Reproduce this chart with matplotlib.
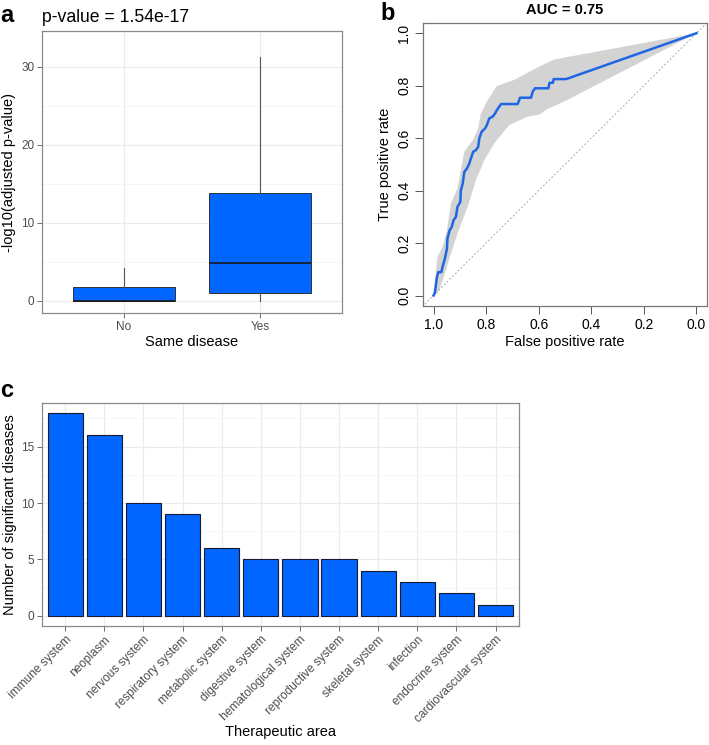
import numpy as np
import matplotlib
matplotlib.use('Agg')
import matplotlib.pyplot as plt
from matplotlib.ticker import MultipleLocator

plt.rcParams['font.family'] = ['Liberation Sans', 'DejaVu Sans']

# panel a: boxplot stats
groups = ['No', 'Yes']
whislo = [0.0, 0.0]
q1 = [0.0, 0.98]
med = [0.0, 4.82]
q3 = [1.75, 13.8]
whishi = [4.26, 31.3]

# panel b: ROC curve (x axis = specificity, shown reversed)
roc_x = [1.0, 0.995, 0.987, 0.982, 0.970, 0.966, 0.957, 0.949, 0.947, 0.939, 0.931, 0.924,
         0.915, 0.909, 0.898, 0.896, 0.889, 0.883, 0.873, 0.864, 0.858, 0.849, 0.839, 0.830,
         0.826, 0.817, 0.804, 0.797, 0.788, 0.775, 0.766, 0.759, 0.750, 0.743, 0.680, 0.671,
         0.629, 0.623, 0.614, 0.563, 0.559, 0.546, 0.543, 0.496, 0.0]
roc_y = [0.0, 0.01, 0.07, 0.089, 0.089, 0.108, 0.14, 0.178, 0.217, 0.248, 0.261, 0.287,
         0.299, 0.338, 0.357, 0.401, 0.427, 0.471, 0.484, 0.503, 0.522, 0.548, 0.554, 0.567,
         0.599, 0.624, 0.637, 0.650, 0.675, 0.682, 0.694, 0.707, 0.720, 0.730, 0.730, 0.754,
         0.754, 0.777, 0.790, 0.790, 0.811, 0.811, 0.825, 0.825, 1.0]
band_up_x = [1.0, 0.985, 0.966, 0.949, 0.934, 0.909, 0.883, 0.851, 0.830, 0.820, 0.794,
             0.759, 0.693, 0.597, 0.540, 0.0]
band_up_y = [0.0, 0.146, 0.185, 0.248, 0.350, 0.408, 0.548, 0.592, 0.637, 0.694, 0.745,
             0.799, 0.822, 0.873, 0.900, 1.0]
band_lo_x = [1.0, 0.978, 0.953, 0.934, 0.909, 0.870, 0.839, 0.807, 0.769, 0.712, 0.642,
             0.597, 0.565, 0.502, 0.0]
band_lo_y = [0.0, 0.019, 0.096, 0.159, 0.236, 0.338, 0.439, 0.516, 0.580, 0.650, 0.682,
             0.690, 0.712, 0.740, 1.0]

# panel c: therapeutic areas
areas = ['immune system', 'neoplasm', 'nervous system', 'respiratory system',
         'metabolic system', 'digestive system', 'hematological system',
         'reproductive system', 'skeletal system', 'infection', 'endocrine system',
         'cardiovascular system']
n_sig = [18, 16, 10, 9, 6, 5, 5, 5, 4, 3, 2, 1]

blue = '#0066ff'
W, H = 709, 745
fig = plt.figure(figsize=(W / 100, H / 100), dpi=100)


def px_axes(x0, y0, x1, y1):
    return fig.add_axes([x0 / W, 1 - y1 / H, (x1 - x0) / W, (y1 - y0) / H])


def gg_style(ax):
    ax.set_axisbelow(True)
    for s in ax.spines.values():
        s.set_color('#8a8a8a')
        s.set_linewidth(0.9)
    ax.grid(True, which='major', color='#ebebeb', lw=0.9)
    ax.grid(True, which='minor', axis='y', color='#f3f3f3', lw=0.5)
    ax.tick_params(which='major', length=3.5, width=0.6, color='#555555',
                   labelcolor='#4d4d4d', pad=2)
    ax.tick_params(which='minor', length=0)


# ---- panel a ----
ax1 = px_axes(42, 31, 342, 313)
stats = [dict(whislo=whislo[i], q1=q1[i], med=med[i], q3=q3[i], whishi=whishi[i])
         for i in range(len(groups))]
ax1.bxp(stats, positions=[1, 2], widths=0.75, patch_artist=True, showcaps=False,
        showfliers=False,
        boxprops=dict(facecolor=blue, edgecolor='#333333', lw=0.7),
        medianprops=dict(color='#1a1a1a', lw=1.2),
        whiskerprops=dict(color='#555555', lw=0.8))
ax1.set_xlim(0.4, 2.6)
ax1.set_ylim(-1.56, 34.6)
ax1.set_xticks([1, 2])
ax1.set_xticklabels(groups)
ax1.yaxis.set_major_locator(MultipleLocator(10))
ax1.yaxis.set_minor_locator(MultipleLocator(5))
gg_style(ax1)
ax1.tick_params(labelsize=8.5)
ax1.set_xlabel('Same disease', fontsize=10.5, labelpad=2)
ax1.set_ylabel('-log10(adjusted p-value)', fontsize=10.5, labelpad=4)
fig.text(42 / W, 1 - 21.5 / H, 'p-value = 1.54e-17', fontsize=12.7, va='baseline')
fig.text(0, 1 - 21.5 / H, 'a', fontsize=17, fontweight='bold', va='baseline')

# ---- panel b ----
ax2 = px_axes(423, 22.7, 707, 306)
ax2.fill(band_up_x + band_lo_x[::-1], band_up_y + band_lo_y[::-1],
         color='#d3d3d3', lw=0)
ax2.axline((1, 0), (0, 1), color='#aaaaaa', lw=0.7, ls=(0, (2, 2)))
ax2.plot(roc_x, roc_y, color='#1f66e5', lw=1.8)
ax2.set_xlim(1.04, -0.04)
ax2.set_ylim(-0.04, 1.04)
ticks = [1.0, 0.8, 0.6, 0.4, 0.2, 0.0]
ax2.set_xticks(ticks)
ax2.set_xticklabels(['%.1f' % t for t in ticks])
ax2.set_yticks(ticks)
ax2.set_yticklabels(['%.1f' % t for t in ticks], rotation=90, va='center')
for s in ax2.spines.values():
    s.set_color('#777777')
    s.set_linewidth(0.9)
ax2.tick_params(length=5.5, width=0.7, color='#555555', labelsize=10, pad=3)
ax2.set_xlabel('False positive rate', fontsize=10.5, labelpad=2)
ax2.set_ylabel('True positive rate', fontsize=10.5, labelpad=4)
ax2.set_title('AUC = 0.75', fontsize=10.5, fontweight='bold', pad=6)
fig.text(380 / W, 1 - 20 / H, 'b', fontsize=17, fontweight='bold', va='baseline')

# ---- panel c ----
ax3 = px_axes(41.7, 402.7, 519, 626)
xpos = np.arange(1, len(areas) + 1)
ax3.bar(xpos, n_sig, width=0.9, color=blue, edgecolor='#1a1a2e', lw=0.8)
ax3.set_xlim(0.4, 12.6)
ax3.set_ylim(-0.9, 18.9)
ax3.set_xticks(xpos)
ax3.set_xticklabels(areas, rotation=45, ha='right', rotation_mode='anchor')
ax3.yaxis.set_major_locator(MultipleLocator(5))
ax3.yaxis.set_minor_locator(MultipleLocator(2.5))
gg_style(ax3)
ax3.tick_params(labelsize=8.6)
ax3.set_xlabel('Therapeutic area', fontsize=10.5, labelpad=0)
ax3.set_ylabel('Number of significant diseases', fontsize=10.5, labelpad=3)
fig.text(0, 1 - 397 / H, 'c', fontsize=17, fontweight='bold', va='baseline')

plt.savefig('out.png', dpi=100)
